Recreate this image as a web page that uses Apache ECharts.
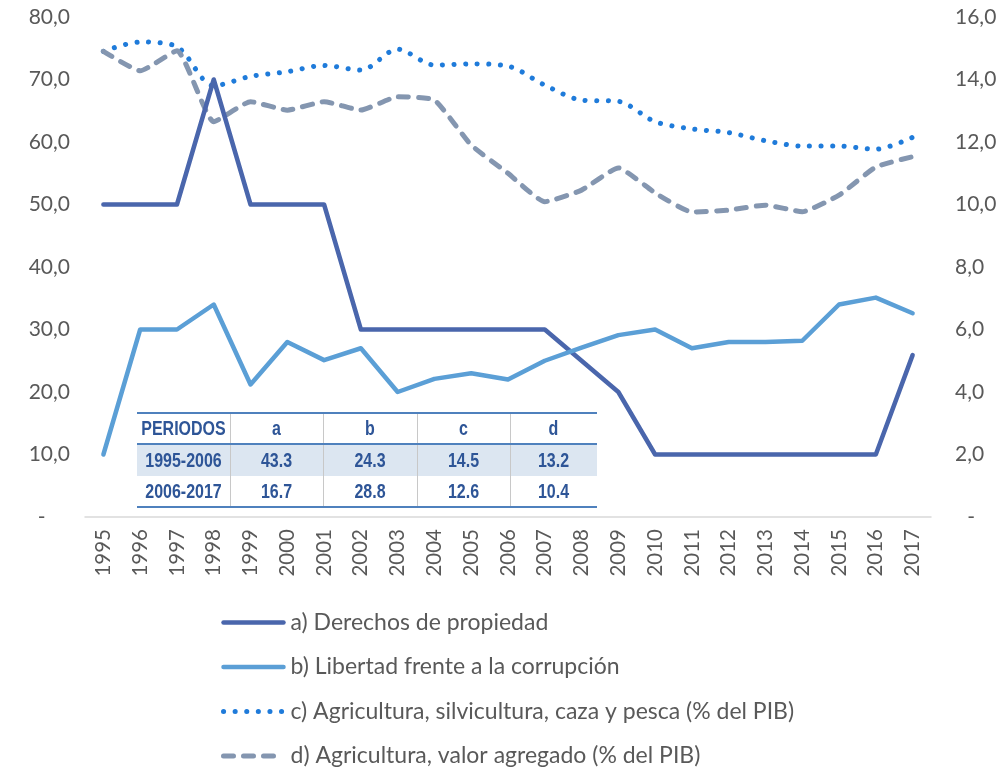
<!DOCTYPE html>
<html><head><meta charset="utf-8">
<script src="https://cdn.jsdelivr.net/npm/echarts@6/dist/echarts.min.js"></script>
<style>html,body{margin:0;padding:0;background:#fff}#c{width:1008px;height:772px}</style>
</head><body><div id="c"></div>
<script>
var years = ['1995','1996','1997','1998','1999','2000','2001','2002','2003','2004','2005','2006','2007','2008','2009','2010','2011','2012','2013','2014','2015','2016','2017'];
var derechos = [50,50,50,70,50,50,50,30,30,30,30,30,30,25,20,10,10,10,10,10,10,10,25.9];
var libertad = [10,30,30,34,21.2,28,25.1,27,20,22.1,23,22,25,27.1,29.1,30,27,28,28,28.2,34,35.1,32.6];
var agriSilv = [14.9,15.2,15.05,13.8,14.1,14.25,14.45,14.3,14.97,14.46,14.5,14.43,13.82,13.34,13.3,12.65,12.42,12.3,12.04,11.87,11.87,11.77,12.15];
var agriValor = [14.9,14.28,14.92,12.65,13.29,13.02,13.29,13.02,13.45,13.34,11.9,11.0,10.09,10.46,11.17,10.37,9.76,9.82,9.98,9.77,10.3,11.2,11.53];
var seriesNames = ['a) Derechos de propiedad','b) Libertad frente a la corrupción','c) Agricultura, silvicultura, caza y pesca (% del PIB)','d) Agricultura, valor agregado (% del PIB)'];
var tableHeader = ['PERIODOS','a','b','c','d'];
var tableRows = [
  ['1995-2006','43.3','24.3','14.5','13.2'],
  ['2006-2017','16.7','28.8','12.6','10.4']
];

var FONT = 'Lato, "Open Sans", sans-serif';
var TFONT = '"Liberation Sans", Arial, sans-serif';
var fmt = function(v){ return v === 0 ? '-' : v.toFixed(1).replace('.', ','); };

var COLORS = ['#4A66AC', '#5B9FD6', '#1F7BDA', '#8496B0'];
var STYLES = [
  {color:COLORS[0], width:4.5, cap:'round', join:'round', type:'solid'},
  {color:COLORS[1], width:4.5, cap:'round', join:'round', type:'solid'},
  {color:COLORS[2], width:5, type:[0.1,11.5], cap:'round'},
  {color:COLORS[3], width:5, type:[10,10], cap:'round'}
];

// table graphic
var tX = 137, tW = 460, colX = [137,230,323,417,510,597], rowY = [413,444,476,507];
var g = [];
g.push({type:'rect', shape:{x:tX, y:rowY[1], width:tW, height:rowY[2]-rowY[1]}, style:{fill:'#DCE6F1'}, z:10});
for (var i = 1; i < 5; i++) {
  g.push({type:'line', shape:{x1:colX[i]+0.5, y1:rowY[0], x2:colX[i]+0.5, y2:rowY[3]}, style:{stroke:'#C8C8C8', lineWidth:1}, z:11});
}
[rowY[0], rowY[1], rowY[3]].forEach(function(y){
  g.push({type:'line', shape:{x1:tX, y1:y, x2:tX+tW, y2:y}, style:{stroke:'#4F81BD', lineWidth:2}, z:12});
});
var allRows = [tableHeader].concat(tableRows);
allRows.forEach(function(row, r){
  row.forEach(function(txt, c){
    var cx = (colX[c] + colX[c+1]) / 2;
    var cy = (rowY[r] + rowY[r+1]) / 2 + 1;
    g.push({type:'text', x:cx, y:cy, scaleX:0.8, style:{x:0, y:0, text:txt, fill:'#2E5597', font:'bold 20px ' + TFONT, align:'center', verticalAlign:'middle'}, z:13});
  });
});

var legendData = seriesNames.map(function(n, i){
  return {name:n, itemStyle:{opacity:0}, lineStyle:STYLES[i]};
});

var chart = echarts.init(document.getElementById('c'));
chart.setOption({
  animation:false,
  backgroundColor:'#fff',
  grid:{left:85, right:77, top:17, bottom:255, containLabel:false},
  legend:{
    orient:'vertical', left:221, top:611, itemWidth:60, itemHeight:16, itemGap:21.5, padding:0,
    textStyle:{fontFamily:FONT, fontSize:23, color:'#595959', padding:[0,0,0,2]},
    data:legendData
  },
  xAxis:{
    type:'category', data:years, boundaryGap:true,
    axisLine:{lineStyle:{color:'#D9D9D9', width:1.5}},
    axisTick:{show:false},
    axisLabel:{rotate:90, color:'#595959', fontFamily:FONT, fontSize:20.5, margin:12, interval:0}
  },
  yAxis:[
    {type:'value', min:0, max:80, interval:10, position:'left',
     splitLine:{show:false}, axisLine:{show:false}, axisTick:{show:false},
     axisLabel:{color:'#595959', fontFamily:FONT, fontSize:21, margin:15,
       formatter:function(v){ return v === 0 ? '-\u2007\u2007' : fmt(v); }}},
    {type:'value', min:0, max:16, interval:2, position:'right',
     splitLine:{show:false}, axisLine:{show:false}, axisTick:{show:false},
     axisLabel:{color:'#595959', fontFamily:FONT, fontSize:21, margin:24,
       formatter:function(v){ return v === 0 ? '\u2007-' : fmt(v); }}}
  ],
  series:[
    {name:seriesNames[0], type:'line', yAxisIndex:0, data:derechos, symbol:'none',
     lineStyle:STYLES[0], itemStyle:{color:COLORS[0]}, z:3},
    {name:seriesNames[1], type:'line', yAxisIndex:0, data:libertad, symbol:'none',
     lineStyle:STYLES[1], itemStyle:{color:COLORS[1]}, z:3},
    {name:seriesNames[2], type:'line', yAxisIndex:1, data:agriSilv, symbol:'none', smooth:0.3,
     lineStyle:STYLES[2], itemStyle:{color:COLORS[2]}, z:2},
    {name:seriesNames[3], type:'line', yAxisIndex:1, data:agriValor, symbol:'none', smooth:0.15,
     lineStyle:STYLES[3], itemStyle:{color:COLORS[3]}, z:2}
  ],
  graphic:g
});
</script>
</body></html>
